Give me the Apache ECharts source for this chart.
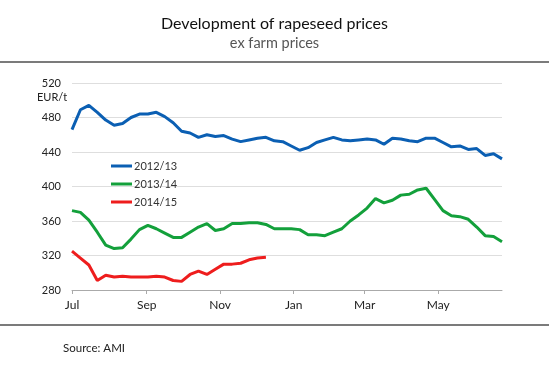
<!DOCTYPE html>
<html>
<head>
<meta charset="utf-8">
<script src="https://cdn.jsdelivr.net/npm/echarts@6/dist/echarts.min.js"></script>
<style>
  html, body { margin: 0; padding: 0; background: #fff; }
  #chart { width: 549px; height: 375px; }
</style>
</head>
<body>
<div id="chart"></div>
<script>
// weekly ex farm prices, EUR/t, week 0 = start of July
var seasons = ['2012/13', '2013/14', '2014/15'];
var prices1213 = [466, 489, 494, 486, 477, 471, 473, 480, 484, 484, 486, 481, 474, 464, 462, 457, 460, 458, 459, 455,
                  452, 454, 456, 457, 453, 452, 447, 442, 445, 451, 454, 457, 454, 453, 454, 455, 454, 449, 456, 455,
                  453, 452, 456, 456, 451, 446, 447, 443, 444, 436, 438, 432];
var prices1314 = [372, 370, 361, 347, 332, 328, 329, 339, 350, 355, 351, 346, 341, 341, 347, 353, 357, 349, 351, 357,
                  357, 358, 358, 356, 351, 351, 351, 350, 344, 344, 343, 347, 351, 360, 367, 375, 386, 381, 384, 390,
                  391, 396, 398, 385, 372, 366, 365, 362, 353, 343, 342, 336];
var prices1415 = [325, 317, 309, 291, 297, 295, 296, 295, 295, 295, 296, 295, 291, 290, 298, 302, 298, 304, 310, 310,
                  311, 315, 317, 318];
// month ticks (in weeks from 1 July)
var monthLabels = ['Jul', 'Sep', 'Nov', 'Jan', 'Mar', 'May'];
var monthWeeks = [0, 62 / 7, 123 / 7, 184 / 7, 243 / 7, 304 / 7];
var yTicks = [280, 320, 360, 400, 440, 480, 520];

var colors = ['#0b5fb3', '#13a03b', '#ee1d1d'];
var font = 'Lato';

function toPoints(arr) {
    return arr.map(function (v, i) { return [i, v]; });
}

var chart = echarts.init(document.getElementById('chart'));
chart.setOption({
    animation: false,
    textStyle: { fontFamily: font },
    title: {
        text: 'Development of rapeseed prices',
        subtext: 'ex farm prices',
        left: 'center',
        top: 11,
        itemGap: 4,
        textStyle: { fontFamily: font, fontSize: 16, fontWeight: 'normal', color: '#111' },
        subtextStyle: { fontFamily: font, fontSize: 14.5, color: '#555' }
    },
    grid: { left: 72, right: 47, top: 83, bottom: 85 },
    legend: {
        orient: 'vertical',
        left: 106,
        top: 154,
        icon: 'rect',
        itemWidth: 21,
        itemHeight: 3,
        itemGap: 4,
        data: seasons,
        textStyle: { fontFamily: font, fontSize: 11, color: '#333', lineHeight: 14, padding: [0, 0, 0, -3] }
    },
    xAxis: {
        type: 'value',
        min: 0,
        max: prices1213.length - 1,
        splitLine: { show: false },
        axisLine: { lineStyle: { color: '#aaa', width: 1 } },
        axisTick: { show: true, length: 4, customValues: monthWeeks, lineStyle: { color: '#aaa' } },
        axisLabel: {
            customValues: monthWeeks,
            margin: 9,
            fontSize: 12,
            color: '#222',
            formatter: function (v) {
                for (var i = 0; i < monthWeeks.length; i++) {
                    if (Math.abs(monthWeeks[i] - v) < 0.01) return monthLabels[i];
                }
                return '';
            }
        }
    },
    yAxis: {
        type: 'value',
        min: yTicks[0],
        max: yTicks[yTicks.length - 1],
        interval: 40,
        axisLine: { show: false },
        axisTick: { show: false },
        splitLine: { lineStyle: { color: '#dedede', width: 1 } },
        axisLabel: { margin: 11, fontSize: 11, color: '#222' }
    },
    series: [
        { name: seasons[0], type: 'line', data: toPoints(prices1213), showSymbol: false, lineStyle: { width: 3, color: colors[0] }, itemStyle: { color: colors[0] } },
        { name: seasons[1], type: 'line', data: toPoints(prices1314), showSymbol: false, lineStyle: { width: 3, color: colors[1] }, itemStyle: { color: colors[1] } },
        { name: seasons[2], type: 'line', data: toPoints(prices1415), showSymbol: false, lineStyle: { width: 3, color: colors[2] }, itemStyle: { color: colors[2] } }
    ],
    graphic: [
        { type: 'line', shape: { x1: 0, y1: 62, x2: 549, y2: 62 }, style: { stroke: '#7b7b7b', lineWidth: 2 } },
        { type: 'line', shape: { x1: 0, y1: 325, x2: 549, y2: 325 }, style: { stroke: '#7b7b7b', lineWidth: 2 } },
        { type: 'text', left: 37, top: 92, style: { text: 'EUR/t', fontFamily: font, fontSize: 11, fill: '#222' } },
        { type: 'text', left: 63, top: 342, style: { text: 'Source: AMI', fontFamily: font, fontSize: 11.5, fill: '#222' } }
    ]
});
</script>
</body>
</html>
